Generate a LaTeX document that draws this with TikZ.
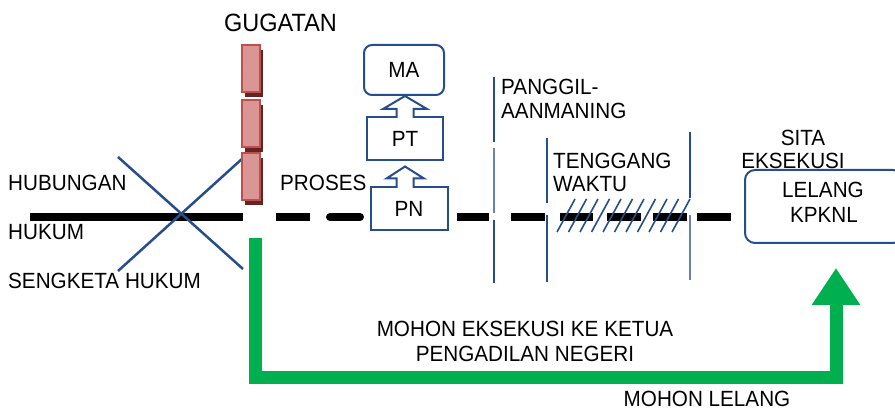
\documentclass[tikz,border=0pt]{standalone}
\usepackage{fontspec}
\setmainfont{Liberation Sans}[FakeStretch=0.94]
\usetikzlibrary{calc,arrows.meta}
\definecolor{lineblue}{RGB}{38,78,140}
\definecolor{pathgreen}{RGB}{0,176,80}
\definecolor{barfill}{RGB}{217,150,148}
\definecolor{barline}{RGB}{192,80,77}
\definecolor{barshadow}{RGB}{99,37,35}

\begin{document}
\begin{tikzpicture}[x=1pt,y=-1pt,
  txt/.style={font=\fontsize{22}{25}\selectfont, inner sep=0pt, anchor=west},
  ctxt/.style={font=\fontsize{22}{25}\selectfont, inner sep=0pt, align=center},
  blueline/.style={lineblue, line width=2pt},
  court/.style={draw=lineblue, line width=2pt, fill=white, font=\fontsize{22}{25}\selectfont, inner sep=0pt},
  blockarr/.style={draw=lineblue, line width=2pt, fill=white, line join=miter},
  timeline/.style={black, line width=8pt}]
\useasboundingbox (0,0) rectangle (895,411);

% the legal relationship line and the crossed out dispute
\draw[timeline] (30,217) -- (243,217);
\draw[lineblue, line width=2.5pt] (118,157) -- (243,269);
\draw[lineblue, line width=2.5pt] (118,271) -- (243,158);
\node[txt] (hub) at (8,183) {HUBUNGAN};
\node[txt] (huk) at (8,232) {HUKUM};
\node[txt] (sengketa) at (8,281) {SENGKETA HUKUM};

% the claim
\node[font=\fontsize{25}{29}\selectfont, inner sep=0pt, anchor=west] (gugatan) at (224,23) {GUGATAN};
\foreach \t in {45,100,153}{
  \fill[barshadow] (245,\t+5) rectangle (263,\t+52);
  \draw[barline, fill=barfill, line width=2pt] (242,\t) rectangle (260,\t+47);
}

% process: dashes and the courts
\draw[timeline] (276,217) -- (310,217);
\draw[timeline, line cap=round] (330,217) -- (360,217);
\node[txt] (proses) at (280,183) {PROSES};
\node[court, rounded corners=8pt, minimum width=80pt, minimum height=50pt] (ma) at (404,70) {MA};
\node[court, minimum width=76pt, minimum height=43pt] (pt) at (405,139) {PT};
\node[court, minimum width=77pt, minimum height=43pt] (pn) at (409,209) {PN};
\draw[blockarr] ($(pt.north)+(-8.5,1.5)$) -- ($(pt.north |- ma.south)+(-8.5,13)$)
  -- ++(-13.5,0) -- (pt.north |- ma.south) -- ($(pt.north |- ma.south)+(22,13)$)
  -- ++(-13.5,0) -- ($(pt.north)+(8.5,1.5)$);
\draw[blockarr] ($(pt.south |- pn.north)+(-8.5,1.5)$) -- ($(pt.south)+(-8.5,17)$)
  -- ++(-10,0) -- ($(pt.south)+(0,5)$) -- ($(pt.south)+(19,17)$)
  -- ++(-10.5,0) -- ($(pt.south |- pn.north)+(8.5,1.5)$);

% execution steps
\foreach \a/\b in {457/489, 511/545, 560/593, 607/641, 653/687, 697/731}
  \draw[timeline] (\a,217) -- (\b,217);
\draw[blueline] (494,77) -- (494,142);
\draw[lineblue!70, line width=1.5pt] (494,148) -- (494,213);
\draw[blueline] (494,220) -- (494,283);
\draw[blueline] (547,138) -- (547,203);
\draw[blueline] (547,215) -- (547,282);
\draw[blueline] (690,132) -- (690,198);
\draw[lineblue!70, line width=1.5pt] (690,215) -- (690,280);
\foreach \i in {0,...,10}
  \draw[lineblue, line width=1.6pt] ({557+11.5*\i},232) -- ++(18,-33);
\node[txt] (panggil) at (501,87) {PANGGIL-};
\node[txt] (aanmaning) at (501,111) {AANMANING};
\node[txt] (tenggang) at (553,161) {TENGGANG};
\node[txt] (waktu) at (553,184) {WAKTU};

% seizure and auction
\node[ctxt] (sita) at (803,138) {SITA};
\node[ctxt] (eksekusi) at (793,161) {EKSEKUSI};
\draw[lineblue, line width=2pt, rounded corners=10pt] (745,170) rectangle (903,243);
\node[ctxt] (lelang) at (823,190) {LELANG};
\node[ctxt] (kpknl) at (824,215) {KPKNL};

% request for execution
\coordinate (gstart) at (255,238);
\coordinate (gend) at (836,268);
\draw[pathgreen, line width=13pt, -{Triangle[length=37pt,width=46pt]}]
  (gstart) -- (255,378) -| (gend);
\node[ctxt] (mohon) at (525,341) {MOHON EKSEKUSI KE KETUA\\PENGADILAN NEGERI};
\node[ctxt] (mohonlelang) at (707,399) {MOHON LELANG};
\end{tikzpicture}
\end{document}
